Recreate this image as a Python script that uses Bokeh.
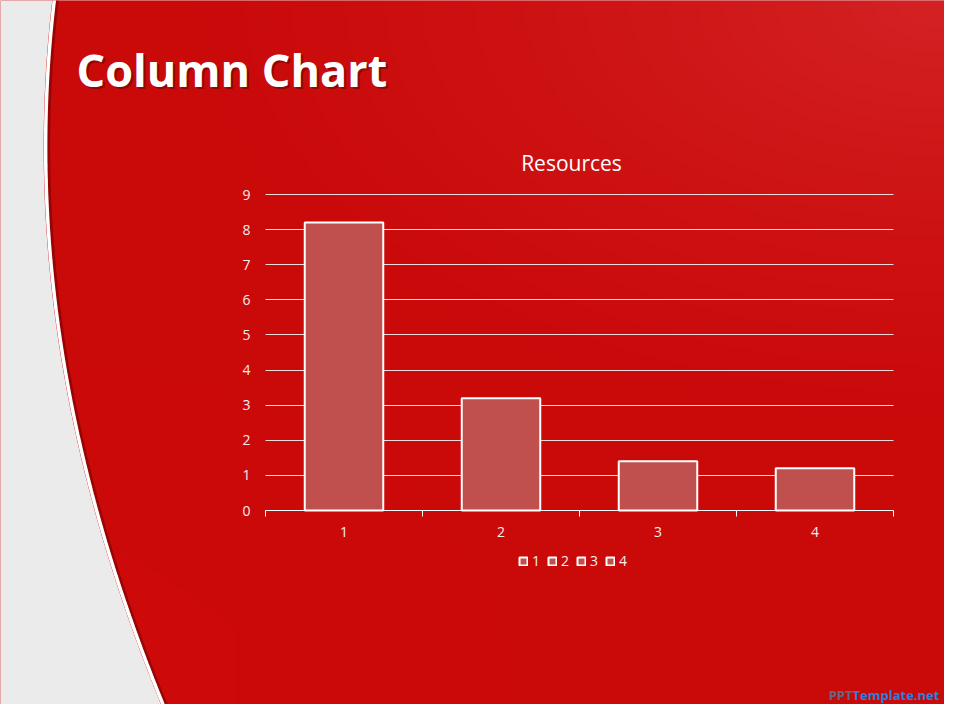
import numpy as np
from bokeh.plotting import figure
from bokeh.models import (Range1d, LinearAxis, FixedTicker, Grid, Legend,
                          LegendItem, ColumnDataSource)
from bokeh.embed import file_html
from bokeh.resources import INLINE
from bokeh.core.properties import value

# ---------------- data ----------------
categories = ["1", "2", "3", "4"]
values = [8.2, 3.2, 1.4, 1.2]
y_ticks = [0, 1, 2, 3, 4, 5, 6, 7, 8, 9]
chart_title = "Resources"
slide_title = "Column Chart"
watermark_a = "PPT"
watermark_b = "Template.net"

# ---------------- layout (picture pixels) ----------------
W, H = 944, 704
OFF = 0
PL, PR, PT, PB = 265, 893, 194, 510     # plot area in picture px
n = len(categories)
ppx = (PR - PL) / n                      # px per category
ppy = (PB - PT) / (y_ticks[-1] - y_ticks[0])
x0 = 0.5 - (PL - OFF) / ppx
x1 = x0 + W / ppx
ytop = y_ticks[-1] + (PT - OFF) / ppy
ybot = ytop - H / ppy


def X(px):
    return x0 + (px - OFF) / ppx


def Y(py):
    return ytop - (py - OFF) / ppy


FONT = "Open Sans"
RED = "#c80a0a"
TXT = "#f4eeee"

p = figure(width=W, height=H, x_range=Range1d(x0, x1), y_range=Range1d(ybot, ytop),
           x_axis_type=None, y_axis_type=None, min_border=0,
           toolbar_location=None, output_backend="svg",
           outline_line_color=None, background_fill_color=RED,
           border_fill_color=RED)

# ---------------- background gradient ----------------
gw, gh = 236, 176
gx = np.linspace(0, 1, gw)[None, :]
gy = np.linspace(0, 1, gh)[:, None]          # 0 = top
d = np.sqrt((1 - gx) ** 2 * 1.0 + (gy * 1.33) ** 2)
t = np.clip(1 - d / 0.9, 0, 1) ** 1.5
base = np.array([202, 9, 9], float)
hi = np.array([212, 34, 36], float)
col = base[None, None, :] * (1 - t[..., None]) + hi[None, None, :] * t[..., None]
low = np.clip((gy - 0.4) * 2, 0, 1) * np.clip(1 - gx * 1.5, 0, 1)
col = col * (1 - 0.4 * low[..., None]) + np.array([214, 12, 12])[None, None, :] * 0.4 * low[..., None]
img = np.zeros((gh, gw), dtype=np.uint32)
view = img.view(dtype=np.uint8).reshape((gh, gw, 4))
view[..., 0] = col[..., 0].astype(np.uint8)
view[..., 1] = col[..., 1].astype(np.uint8)
view[..., 2] = col[..., 2].astype(np.uint8)
view[..., 3] = 255
img = img[::-1]                               # row 0 at bottom
p.image_rgba(image=[img], x=x0, y=ybot, dw=x1 - x0, dh=ytop - ybot, level="image")

# ---------------- left grey swoosh ----------------
ey = np.array([0, 80, 170, 240, 330, 400, 480, 560, 640, 720], float)
ex = np.array([53, 48, 46, 48, 58, 70, 88, 110, 140, 168], float)
coef = np.polyfit(ey, ex, 3)
cy = np.linspace(-5, 730, 200)
cx = np.polyval(coef, cy)
gxs = [X(-5)] + list(X(cx - 2)) + [X(-5)]
gys = [Y(-5)] + list(Y(cy)) + [Y(730)]
p.patch(gxs, gys, fill_color="#ebebeb", line_color=None, level="image")
p.line(X(cx + 3), Y(cy), line_color="#5a0000", line_alpha=0.45, line_width=3, level="image")
p.line(X(cx), Y(cy), line_color="white", line_width=3.5, level="image")

# ---------------- titles ----------------
p.text(x=[X(78)], y=[Y(71)], text=[slide_title], text_font=value(FONT),
       text_font_style="bold", text_font_size="45px", text_color="black",
       text_alpha=0.3, text_baseline="middle", level="image")
p.text(x=[X(76)], y=[Y(69)], text=[slide_title], text_font=value(FONT),
       text_font_style="bold", text_font_size="45px", text_color="white",
       text_baseline="middle")
p.text(x=[X(571)], y=[Y(162)], text=[chart_title], text_font=value(FONT),
       text_font_size="21px", text_color="white", text_align="center",
       text_baseline="middle")

# watermark
p.text(x=[X(852)], y=[Y(694)], text=[watermark_a], text_font=value(FONT),
       text_font_style="bold", text_font_size="13px", text_color="#5d6b85",
       text_align="right", text_baseline="middle")
p.text(x=[X(852)], y=[Y(694)], text=[watermark_b], text_font=value(FONT),
       text_font_style="bold", text_font_size="13px", text_color="#2f7fd6",
       text_align="left", text_baseline="middle")

# ---------------- grid ----------------
grid = Grid(dimension=1, ticker=FixedTicker(ticks=y_ticks[1:]),
            cross_bounds=(0.5, n + 0.5),
            grid_line_color="white", grid_line_alpha=0.85, grid_line_width=1)
p.add_layout(grid)

# ---------------- bars ----------------
src = ColumnDataSource(dict(x=list(range(1, n + 1)), top=values, cat=categories))
bars = p.vbar(x="x", top="top", width=0.5, bottom=0, source=src,
              fill_color="#c0504d", line_color="white", line_width=2)

# ---------------- axes ----------------
tick_axis = LinearAxis(fixed_location=0,
                       ticker=FixedTicker(ticks=[i + 0.5 for i in range(n + 1)]),
                       bounds=(0.5, n + 0.5), axis_line_color="white",
                       axis_line_width=1, major_tick_line_color="white",
                       major_tick_in=0, major_tick_out=6,
                       minor_tick_line_color=None, major_label_text_color=None)
p.add_layout(tick_axis, "below")

label_axis = LinearAxis(fixed_location=0,
                        ticker=FixedTicker(ticks=list(range(1, n + 1))),
                        major_label_overrides={i + 1: c for i, c in enumerate(categories)},
                        axis_line_color=None, major_tick_line_color=None,
                        major_tick_in=0, major_tick_out=0, minor_tick_line_color=None,
                        major_label_standoff=16, major_label_text_color=TXT,
                        major_label_text_font=FONT, major_label_text_font_size="14px")
p.add_layout(label_axis, "below")

y_axis = LinearAxis(fixed_location=0.5, ticker=FixedTicker(ticks=y_ticks),
                    axis_line_color=None, major_tick_line_color=None,
                    major_tick_in=0, major_tick_out=0, minor_tick_line_color=None,
                    major_label_standoff=15, major_label_text_color=TXT,
                    major_label_text_font=FONT, major_label_text_font_size="14px")
p.add_layout(y_axis, "left")

# ---------------- legend ----------------
items = [LegendItem(label=c, renderers=[bars], index=i) for i, c in enumerate(categories)]
legend = Legend(items=items, orientation="horizontal", location=(518, 134),
                glyph_width=10, glyph_height=10, label_standoff=4, spacing=7,
                padding=0, margin=0, border_line_color=None,
                background_fill_alpha=0, label_text_color=TXT,
                label_text_font=FONT, label_text_font_size="14px",
                label_height=16, label_width=8)
p.add_layout(legend)

open("out.html", "w").write(file_html(p, INLINE))
